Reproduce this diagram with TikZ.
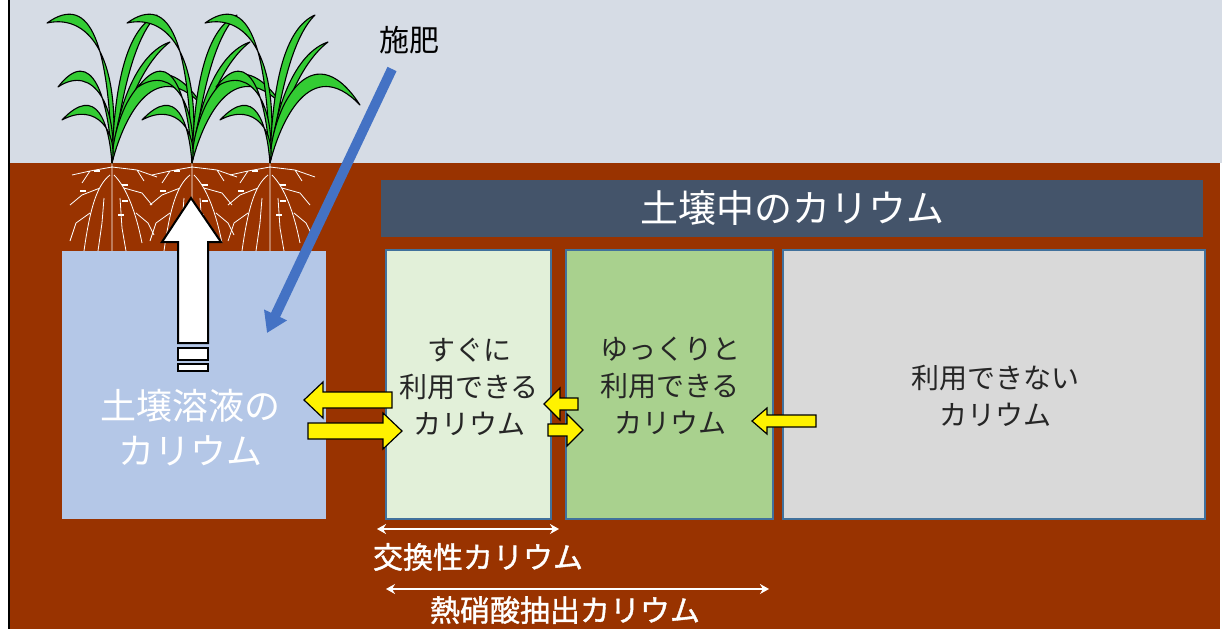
\documentclass[tikz,border=0pt]{standalone}
\usepackage{fontspec}
\setmainfont{Noto Sans CJK JP}
\newfontfamily\jpmed[FakeBold=1.2]{Noto Sans CJK JP}
\usetikzlibrary{arrows.meta}

\definecolor{sky}{HTML}{D6DCE5}
\definecolor{soil}{HTML}{993300}
\definecolor{headfill}{HTML}{44546A}
\definecolor{fastK}{HTML}{E2F0D9}
\definecolor{slowK}{HTML}{A9D18E}
\definecolor{fixedK}{HTML}{D9D9D9}
\definecolor{solK}{HTML}{B4C7E7}
\definecolor{boxline}{HTML}{41719C}
\definecolor{leafgreen}{HTML}{33CC33}
\definecolor{fertblue}{HTML}{4472C4}

% one leaf from the stem base: outer controls, tip, inner controls
\newcommand\leaf[5]{\filldraw[leafline] (0,0) .. controls #1 and #2 .. #3 .. controls #4 and #5 .. (0,0);}
% tail x, tip x, y, half shaft, half head, head length (signed)
\newcommand\blockarrow[6]{%
  \filldraw[yarrow] (#1,{#3-#4}) -- ({#2-(#6)},{#3-#4}) -- ({#2-(#6)},{#3-#5}) -- (#2,#3)
    -- ({#2-(#6)},{#3+#5}) -- ({#2-(#6)},{#3+#4}) -- (#1,{#3+#4}) -- cycle;}

\begin{document}
\begin{tikzpicture}[x=1pt,y=-1pt,
  leafline/.style={fill=leafgreen,draw=black,line width=1.1pt,line join=round},
  rootline/.style={draw=white,line width=0.8pt},
  potbox/.style={draw=boxline,line width=1.2pt,inner sep=0pt},
  boxtext/.style={align=center,text=black!85,inner sep=0pt,font=\fontsize{28}{37}\selectfont},
  yarrow/.style={fill=yellow,draw=black,line width=1.2pt},
  uparrow/.style={fill=white,draw=black,line width=2pt},
  dimarrow/.style={draw=white,line width=2pt,{Stealth[length=9pt,width=10pt]}-{Stealth[length=9pt,width=10pt]}},
  dimtext/.style={text=white,inner sep=0pt,font=\fontsize{30}{32}\selectfont\jpmed}]
\useasboundingbox (0,0) rectangle (1222,629);
\fill[white] (0,0) rectangle (1222,629);
\fill[sky] (10,0) rectangle (1222,163);
\fill[soil] (10,163) rectangle (1220,629);
\draw[line width=2.5pt] (9,0) -- (9,629);

% roots
\foreach \px in {112,192,270} {
\begin{scope}[shift={(\px,163)}]
\draw[rootline] (0,0) -- (0,88)
  (0,4) -- (-22,8) -- (-40,12) (-22,8) -- (-30,20)
  (0,4) -- (25,7) -- (45,14) (25,7) -- (32,18)
  (-2,12) .. controls (-15,22) and (-22,45) .. (-28,88)
  (2,12) .. controls (15,25) and (24,50) .. (30,80)
  (-12,25) -- (-30,32) -- (-42,42)
  (12,25) -- (30,30) -- (40,42)
  (-22,50) -- (-36,60) -- (-42,78)
  (24,50) -- (36,60) -- (42,72)
  (-8,35) -- (-10,60) -- (-14,88)
  (8,35) -- (10,65) -- (14,88);
\draw[rootline,line width=1.5pt] (-18,8) -- (-12,8) (10,22) -- (16,22) (-32,28) -- (-26,28)
  (10,38) -- (16,38) (6,52) -- (12,52);
\end{scope}
}
% plants
\foreach \px in {112,192,270} {
\begin{scope}[shift={(\px,163)}]
\leaf{(-3,-115)}{(-20,-172)}{(-65,-140)}{(-20,-150)}{(10,-100)}
\leaf{(2,-80)}{(15,-135)}{(45,-148)}{(22,-125)}{(10,-70)}
\leaf{(4,-55)}{(25,-110)}{(58,-121)}{(28,-98)}{(10,-45)}
\leaf{(0,-50)}{(40,-135)}{(90,-58)}{(40,-110)}{(10,-40)}
\leaf{(-3,-65)}{(-20,-120)}{(-54,-76)}{(-18,-100)}{(6,-55)}
\leaf{(-3,-40)}{(-15,-80)}{(-50,-43)}{(-15,-62)}{(6,-30)}
\end{scope}
}

% soil solution and the three pools
\node[fill=solK,minimum width=264pt,minimum height=268pt,inner sep=0pt] (sol) at (194,385) {};
\node[align=center,text=white,inner sep=0pt,font=\fontsize{36}{45}\selectfont] (soltxt) at (190,428) {土壌溶液の\\カリウム};
\node[fill=headfill,minimum width=822pt,minimum height=57pt,inner sep=0pt,
  text=white,font=\fontsize{38}{40}\selectfont] (head) at (792,208.5) {土壌中のカリウム};
\node[potbox,fill=fastK,minimum width=165pt,minimum height=269pt] (fast) at (468.5,384.5) {};
\node[potbox,fill=slowK,minimum width=207pt,minimum height=269pt] (slow) at (669.5,384.5) {};
\node[potbox,fill=fixedK,minimum width=422pt,minimum height=269pt] (fixed) at (994,384.5) {};
\node[boxtext] (fasttxt) at (469,387) {すぐに\\利用できる\\カリウム};
\node[boxtext] (slowtxt) at (670,386) {ゆっくりと\\利用できる\\カリウム};
\node[boxtext] (fixedtxt) at (995,396) {利用できない\\カリウム};

% exchange between the pools
\blockarrow{392}{304}{400}{8}{18}{-19}
\blockarrow{308}{402}{431}{8}{18}{19}
\blockarrow{578}{544}{404}{6}{16}{-16}
\blockarrow{548}{583}{430}{6}{16}{16}
\blockarrow{816}{752}{421}{6}{13}{-15}

% uptake by the roots
\filldraw[uparrow] (178,343) -- (178,242) -- (162,242) -- (191,198) -- (221,242) -- (208,242) -- (208,343) -- cycle;
\filldraw[uparrow] (178,348) rectangle (208,360);
\filldraw[uparrow] (178,364) rectangle (208,371);

% fertilizer
\node[font=\fontsize{30}{32}\selectfont,inner sep=0pt] (fert) at (409,40) {施肥};
\coordinate (fertA) at (392,69);
\coordinate (fertB) at (267,333);
\draw[fertblue,line width=10pt,-{Triangle[width=24pt,length=20pt]}] (fertA) -- (fertB);

% ranges of the two extractions
\coordinate (exA) at (377,529);
\coordinate (exB) at (559,529);
\coordinate (hnA) at (386,589);
\coordinate (hnB) at (769,589);
\draw[dimarrow] (exA) -- (exB);
\draw[dimarrow] (hnA) -- (hnB);
\node[dimtext] (extxt) at (478,557) {交換性カリウム};
\node[dimtext] (hntxt) at (565,610) {熱硝酸抽出カリウム};
\end{tikzpicture}
\end{document}
